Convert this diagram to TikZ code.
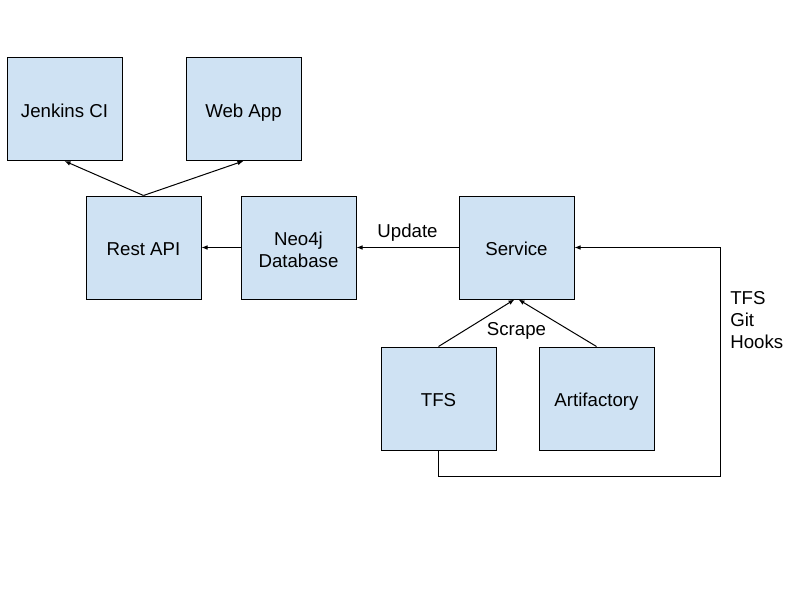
\documentclass[tikz,border=0pt]{standalone}
\usepackage{fontspec}
\setmainfont{Liberation Sans}
\usetikzlibrary{arrows.meta}
\begin{document}
\begin{tikzpicture}[x=0.75pt,y=-0.75pt,
  box/.style={draw=black,line width=0.75pt,fill=boxblue,minimum width=86.25pt,minimum height=77.25pt,inner sep=0pt,align=center,font=\fontsize{14}{16}\selectfont},
  oneline/.style={text height=14pt,text depth=2pt},
  lbl/.style={font=\fontsize{14}{16.5}\selectfont,inner sep=0pt},
  conn/.style={line width=0.75pt,-{Latex[length=4.5pt,width=3.5pt]}}]
\definecolor{boxblue}{HTML}{CFE2F3}
\useasboundingbox[fill=white] (0,0) rectangle (800,600);
\node[box,oneline] (jenkins) at (64.5,109) {Jenkins CI};
\node[box,oneline] (webapp) at (243.5,109) {Web App};
\node[box,oneline] (rest) at (143.5,247.5) {Rest API};
\node[box] (neo) at (298.5,247.5) {\rule{0pt}{13.5pt}Neo4j\\Database};
\node[box,oneline] (service) at (516.5,247.5) {Service};
\node[box,oneline] (tfs) at (438.5,398.5) {TFS};
\node[box,oneline] (arti) at (596.5,398.5) {Artifactory};
\coordinate (c1) at (438.5,476);
\coordinate (c2) at (720,476);
\coordinate (c3) at (720,247.5);
\draw[conn] (rest.north) -- (jenkins.south);
\draw[conn] (rest.north) -- (webapp.south);
\draw[conn] (neo.west) -- (rest.east);
\draw[conn] (service.west) -- node[lbl,above=4.5pt] (upd) {Update} (neo.east);
\draw[conn] (tfs.north) -- ([xshift=-1.5pt]service.south);
\draw[conn] (arti.north) -- ([xshift=1.5pt]service.south);
\node[lbl] (scrape) at (516.5,331) {Scrape};
\draw[line width=0.75pt,-{Latex[length=4.5pt,width=3.5pt]}] (tfs.south) -- (c1) -- (c2) -- (c3) -- (service.east);
\node[lbl,anchor=north west,align=left] (hooks) at (730,291) {TFS\\Git\\Hooks};
\end{tikzpicture}
\end{document}
